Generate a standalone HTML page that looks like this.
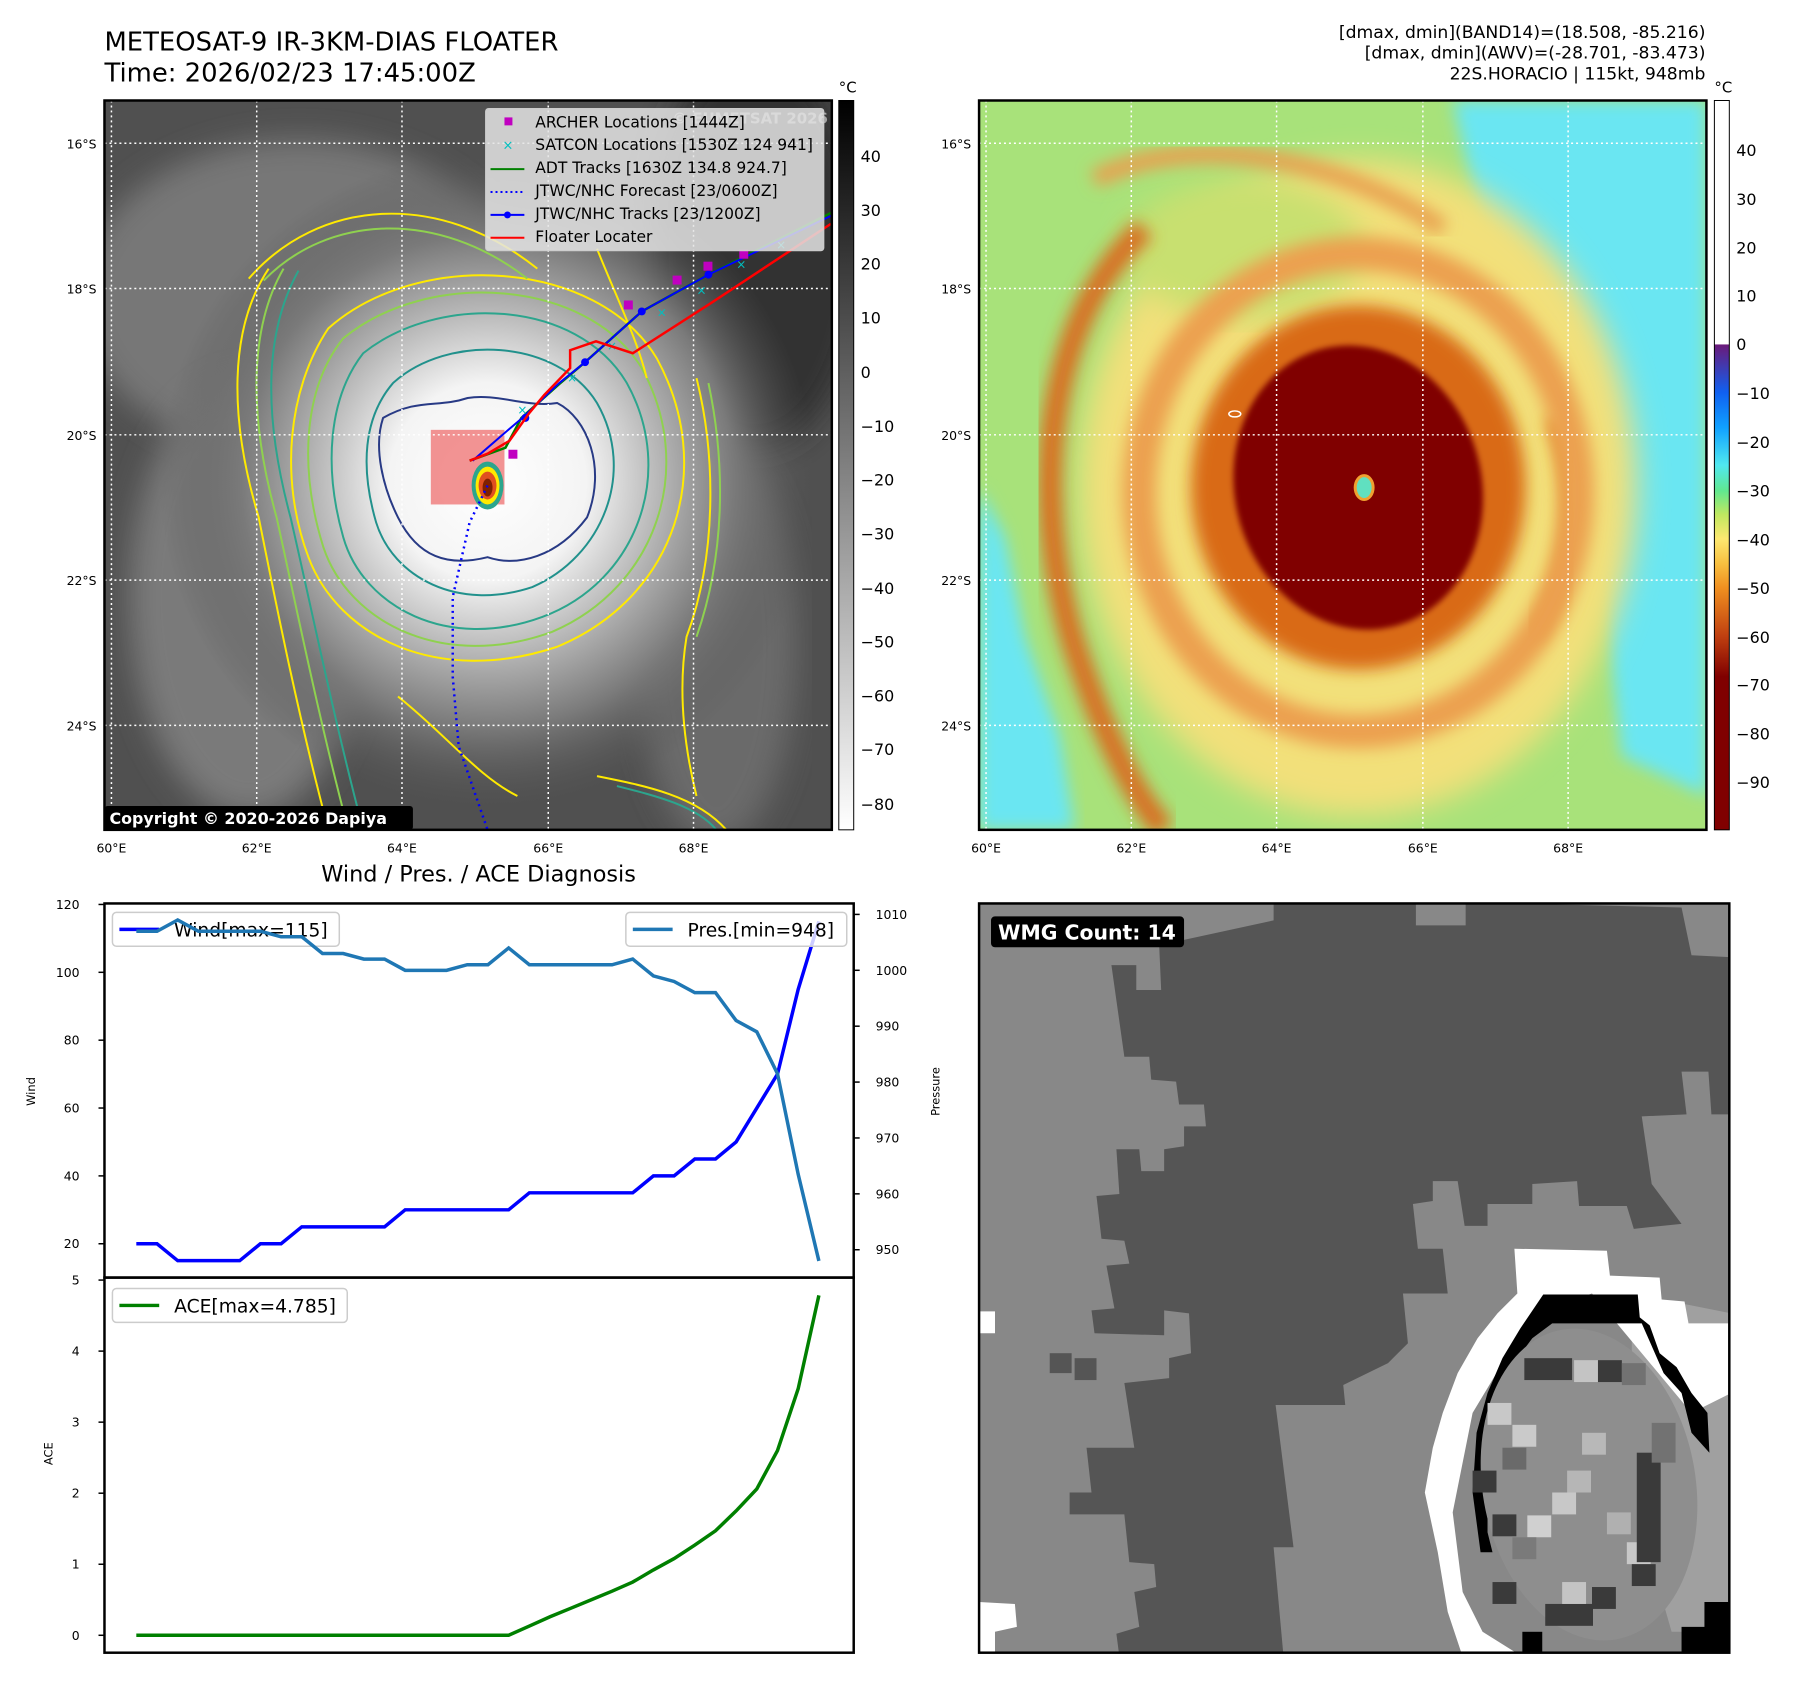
<!DOCTYPE html>
<html><head><meta charset="utf-8">
<style>
html,body{margin:0;padding:0;background:#fff;}
svg{display:block;font-family:"DejaVu Sans","Liberation Sans",sans-serif;}
</style></head>
<body>
<svg id="fig" width="1797" height="1690" viewBox="0 0 1797 1690" xmlns="http://www.w3.org/2000/svg">
<defs>
<clipPath id="cTL"><rect x="105" y="101" width="731" height="733"/></clipPath>
<clipPath id="cTR"><rect x="984" y="101" width="731" height="733"/></clipPath>
<clipPath id="cBR"><rect x="984" y="908" width="754" height="753"/></clipPath>
<clipPath id="cW"><rect x="105" y="908" width="753" height="376"/></clipPath>
<clipPath id="cA"><rect x="105" y="1284" width="753" height="377"/></clipPath>
<radialGradient id="gBright" cx="490" cy="484" r="330" gradientUnits="userSpaceOnUse">
<stop offset="0" stop-color="#ffffff"/><stop offset="0.3" stop-color="#f4f4f4"/><stop offset="0.5" stop-color="#bdbdbd"/><stop offset="0.75" stop-color="#7a7a7a"/><stop offset="1" stop-color="#555" stop-opacity="0"/>
</radialGradient>
<linearGradient id="cbGray" x1="0" y1="0" x2="0" y2="1">
<stop offset="0" stop-color="#000"/><stop offset="1" stop-color="#fff"/>
</linearGradient>
<linearGradient id="cbColor" x1="0" y1="101" x2="0" y2="834" gradientUnits="userSpaceOnUse">
<stop offset="0" stop-color="#fff"/><stop offset="0.334" stop-color="#fff"/>
<stop offset="0.335" stop-color="#6a1a7a"/><stop offset="0.40" stop-color="#1060f0"/><stop offset="0.448" stop-color="#10a0ff"/>
<stop offset="0.50" stop-color="#50e8f0"/><stop offset="0.535" stop-color="#60e890"/><stop offset="0.568" stop-color="#c0e860"/>
<stop offset="0.601" stop-color="#fde870"/><stop offset="0.635" stop-color="#f8c040"/><stop offset="0.668" stop-color="#f09020"/>
<stop offset="0.734" stop-color="#c04010"/><stop offset="0.79" stop-color="#800000"/><stop offset="1" stop-color="#800000"/>
</linearGradient>
<filter id="blur8"><feGaussianBlur stdDeviation="8"/></filter>
<filter id="blur15"><feGaussianBlur stdDeviation="15"/></filter>
<filter id="blur4"><feGaussianBlur stdDeviation="3"/></filter>
</defs>
<g transform="scale(0.995)">
<text x="105" y="51" font-size="26" fill="#000">METEOSAT-9 IR-3KM-DIAS FLOATER</text>
<text x="105" y="82" font-size="26" fill="#000">Time: 2026/02/23 17:45:00Z</text>
<g font-size="17.3" text-anchor="end" fill="#000">
<text x="1714" y="38">[dmax, dmin](BAND14)=(18.508, -85.216)</text>
<text x="1714" y="59">[dmax, dmin](AWV)=(-28.701, -83.473)</text>
<text x="1714" y="80">22S.HORACIO | 115kt, 948mb</text>
</g>

<!-- TOP LEFT MAP -->
<g clip-path="url(#cTL)">
<rect x="105" y="101" width="731" height="733" fill="#505050"/>
<ellipse cx="300" cy="300" rx="220" ry="160" fill="#777" filter="url(#blur15)"/>
<ellipse cx="250" cy="600" rx="120" ry="220" fill="#7a7a7a" filter="url(#blur15)"/>
<ellipse cx="760" cy="250" rx="110" ry="200" fill="#333" filter="url(#blur15)"/>
<ellipse cx="720" cy="650" rx="80" ry="200" fill="#6a6a6a" filter="url(#blur15)"/>
<rect x="105" y="101" width="731" height="733" fill="url(#gBright)"/>
<g fill="none" stroke-width="2">
<path d="M330,330 C420,250 600,260 660,360 C720,470 680,600 560,650 C440,690 340,640 310,560 C280,480 290,390 330,330Z" stroke="#ffea00"/>
<path d="M345,340 C430,270 590,280 645,370 C700,470 660,590 555,635 C445,675 350,625 325,550 C300,470 305,390 345,340Z" stroke="#8fd14f"/>
<path d="M365,355 C440,295 580,300 630,385 C680,475 640,585 545,620 C450,655 365,610 345,540 C325,470 330,400 365,355Z" stroke="#2ca58d"/>
<path d="M395,385 C450,335 560,340 600,405 C640,475 605,560 535,590 C460,615 395,580 378,525 C362,470 365,420 395,385Z" stroke="#21918c"/>
<path d="M385,420 C420,400 440,410 470,400 C500,395 530,410 560,405 C590,420 610,470 590,520 C560,560 520,570 490,560 C450,570 420,560 400,520 C385,490 375,450 385,420Z" stroke="#283a85"/>
<path d="M270,270 C230,330 230,420 260,520 C280,620 300,720 330,834" stroke="#ffea00"/>
<path d="M285,270 C250,330 250,420 278,520 C300,620 320,720 350,834" stroke="#8fd14f"/>
<path d="M300,272 C265,335 265,420 292,520 C315,620 335,720 365,834" stroke="#2ca58d"/>
<path d="M250,280 C320,200 440,190 540,270" stroke="#ffea00"/>
<path d="M265,282 C330,215 440,210 530,280" stroke="#8fd14f"/>
<path d="M700,380 C720,460 720,560 690,640 C680,700 690,760 700,800" stroke="#ffea00"/>
<path d="M712,385 C730,470 728,560 700,640" stroke="#8fd14f"/>
<path d="M600,780 C650,790 700,800 730,834" stroke="#ffea00"/>
<path d="M620,790 C660,800 700,810 720,834" stroke="#2ca58d"/>
<path d="M400,700 C450,740 480,780 520,800" stroke="#ffea00"/>
<path d="M600,250 C620,300 640,340 650,380" stroke="#ffea00"/>
</g>
<rect x="433" y="432" width="74" height="75" fill="#f08080" opacity="0.85"/>
<g>
<ellipse cx="490" cy="488" rx="16" ry="24" fill="#2ca58d"/>
<ellipse cx="490" cy="488" rx="12" ry="19" fill="#ffea00"/>
<ellipse cx="490" cy="488" rx="9" ry="14" fill="#e05020"/>
<ellipse cx="490" cy="490" rx="5" ry="9" fill="#802000"/>
</g>
<g stroke="#fff" stroke-width="1.5" stroke-dasharray="2,3">
<line x1="112" y1="101" x2="112" y2="834"/><line x1="258" y1="101" x2="258" y2="834"/><line x1="404" y1="101" x2="404" y2="834"/><line x1="551" y1="101" x2="551" y2="834"/><line x1="697" y1="101" x2="697" y2="834"/>
<line x1="105" y1="144" x2="836" y2="144"/><line x1="105" y1="290" x2="836" y2="290"/><line x1="105" y1="437" x2="836" y2="437"/><line x1="105" y1="583" x2="836" y2="583"/><line x1="105" y1="729" x2="836" y2="729"/>
</g>
<polyline points="490,488 472,525 455,600 455,680 461,750 490,834" fill="none" stroke="#0000ff" stroke-width="2.5" stroke-dasharray="2,4"/>
<polyline points="472,463 508,450 524,420 562,386 588,364 645,313 712,276 835,214" fill="none" stroke="#008000" stroke-width="2.5"/>
<g fill="#00c0c0" font-size="12">
<text x="520" y="416">×</text><text x="570" y="384">×</text><text x="610" y="352">×</text><text x="660" y="318">×</text><text x="700" y="296">×</text><text x="740" y="270">×</text><text x="780" y="250">×</text>
</g>
<polyline points="475,463 512,431 525,420 562,385 588,364 645,313 712,276 835,217" fill="none" stroke="#0000ff" stroke-width="2"/>
<g fill="#0000ff"><circle cx="528" cy="420" r="4"/><circle cx="588" cy="364" r="4"/><circle cx="645" cy="313" r="4"/><circle cx="712" cy="276" r="4"/></g>
<polyline points="472,463 490,456 512,443 532,415 547,397 573,370 573,352 599,343 636,355 714,305 835,225" fill="none" stroke="#ff0000" stroke-width="2.5"/>
<g fill="#c000c0"><rect x="511" y="452" width="9" height="9"/><rect x="627" y="302" width="9" height="9"/><rect x="676" y="277" width="9" height="9"/><rect x="707" y="263" width="9" height="9"/><rect x="743" y="251" width="9" height="9"/></g>
<text x="832" y="124" font-size="15" font-weight="bold" fill="#fff" opacity="0.55" text-anchor="end">© EUMETSAT 2026</text>
<g>
<rect x="488" y="109" width="340" height="143" rx="3" fill="#e4e4e4" fill-opacity="0.85" stroke="#ccc"/>
<rect x="507" y="118" width="8" height="8" fill="#c000c0"/>
<text x="505" y="150" font-size="13" fill="#00c0c0">×</text>
<line x1="493" y1="170" x2="527" y2="170" stroke="#008000" stroke-width="2"/>
<line x1="493" y1="193" x2="527" y2="193" stroke="#0000ff" stroke-width="2" stroke-dasharray="2,3"/>
<line x1="493" y1="216" x2="527" y2="216" stroke="#0000ff" stroke-width="2"/><circle cx="510" cy="216" r="3.5" fill="#0000ff"/>
<line x1="493" y1="239" x2="527" y2="239" stroke="#ff0000" stroke-width="2"/>
<g font-size="15.6" fill="#000">
<text x="538" y="128">ARCHER Locations [1444Z]</text>
<text x="538" y="151">SATCON Locations [1530Z 124 941]</text>
<text x="538" y="174">ADT Tracks [1630Z 134.8 924.7]</text>
<text x="538" y="197">JTWC/NHC Forecast [23/0600Z]</text>
<text x="538" y="220">JTWC/NHC Tracks [23/1200Z]</text>
<text x="538" y="243">Floater Locater</text>
</g>
</g>
<rect x="105" y="810" width="310" height="24" rx="3" fill="#000"/>
<text x="110" y="828" font-size="16" font-weight="bold" fill="#fff">Copyright © 2020-2026 Dapiya</text>
</g>
<rect x="105" y="101" width="731" height="733" fill="none" stroke="#000" stroke-width="2.5"/>

<g font-size="12.5" fill="#000" text-anchor="end">
<text x="97" y="149">16°S</text><text x="97" y="295">18°S</text><text x="97" y="442">20°S</text><text x="97" y="588">22°S</text><text x="97" y="734">24°S</text>
</g>
<g font-size="12.5" fill="#000" text-anchor="middle">
<text x="112" y="857">60°E</text><text x="258" y="857">62°E</text><text x="404" y="857">64°E</text><text x="551" y="857">66°E</text><text x="697" y="857">68°E</text>
</g>
<g>
<rect x="843" y="101" width="15" height="733" fill="url(#cbGray)" stroke="#000" stroke-width="1"/>
<text x="852" y="93" font-size="15" text-anchor="middle">°C</text>
<g font-size="16" fill="#000">
<text x="865" y="163">40</text><text x="865" y="217">30</text><text x="865" y="271">20</text><text x="865" y="325">10</text><text x="865" y="380">0</text>
<text x="865" y="434">−10</text><text x="865" y="488">−20</text><text x="865" y="542">−30</text><text x="865" y="597">−40</text><text x="865" y="651">−50</text><text x="865" y="705">−60</text><text x="865" y="759">−70</text><text x="865" y="814">−80</text>
</g>
</g>

<!-- TOP RIGHT MAP -->
<g clip-path="url(#cTR)">
<rect x="984" y="101" width="731" height="733" fill="#a8e27a"/>
<polygon points="1460,101 1715,101 1715,800 1630,760 1610,580 1600,440 1545,335 1490,230" fill="#6ae6f2" filter="url(#blur8)"/>
<polygon points="984,490 1010,540 1030,640 1065,740 1080,834 984,834" fill="#6ae6f2" filter="url(#blur8)"/>
<ellipse cx="1365" cy="490" rx="280" ry="330" fill="#f2e07a" filter="url(#blur15)"/>
<ellipse cx="1250" cy="250" rx="120" ry="70" fill="#c8e070" filter="url(#blur15)"/>
<path d="M1150,230 C1040,330 1040,520 1080,650 C1110,740 1140,800 1170,834" fill="none" stroke="#d87020" stroke-width="24" filter="url(#blur8)"/>
<path d="M1100,180 C1200,130 1350,160 1450,230" fill="none" stroke="#e8a050" stroke-width="18" filter="url(#blur8)"/>
<path d="M1560,420 C1590,500 1580,580 1540,640" fill="none" stroke="#e07a20" stroke-width="14" filter="url(#blur8)"/>
<ellipse cx="1365" cy="495" rx="220" ry="240" fill="none" stroke="#eca050" stroke-width="34" filter="url(#blur8)"/>
<ellipse cx="1365" cy="490" rx="168" ry="183" fill="#d96a18" filter="url(#blur8)"/>
<ellipse cx="1365" cy="490" rx="124" ry="144" fill="#800000" transform="rotate(-15 1365 490)" filter="url(#blur4)"/>
<ellipse cx="1371" cy="490" rx="9" ry="12" fill="#60e0c0" stroke="#f0a030" stroke-width="3"/>
<ellipse cx="1241" cy="416" rx="6" ry="3" fill="none" stroke="#fff" stroke-width="1.5"/>
<g stroke="#fff" stroke-width="1.5" stroke-dasharray="2,3">
<line x1="991" y1="101" x2="991" y2="834"/><line x1="1137" y1="101" x2="1137" y2="834"/><line x1="1283" y1="101" x2="1283" y2="834"/><line x1="1430" y1="101" x2="1430" y2="834"/><line x1="1576" y1="101" x2="1576" y2="834"/>
<line x1="984" y1="144" x2="1715" y2="144"/><line x1="984" y1="290" x2="1715" y2="290"/><line x1="984" y1="437" x2="1715" y2="437"/><line x1="984" y1="583" x2="1715" y2="583"/><line x1="984" y1="729" x2="1715" y2="729"/>
</g>
</g>
<rect x="984" y="101" width="731" height="733" fill="none" stroke="#000" stroke-width="2.5"/>
<g font-size="12.5" fill="#000" text-anchor="end">
<text x="976" y="149">16°S</text><text x="976" y="295">18°S</text><text x="976" y="442">20°S</text><text x="976" y="588">22°S</text><text x="976" y="734">24°S</text>
</g>
<g font-size="12.5" fill="#000" text-anchor="middle">
<text x="991" y="857">60°E</text><text x="1137" y="857">62°E</text><text x="1283" y="857">64°E</text><text x="1430" y="857">66°E</text><text x="1576" y="857">68°E</text>
</g>
<g>
<rect x="1723" y="101" width="15" height="733" fill="url(#cbColor)" stroke="#000" stroke-width="1"/>
<text x="1732" y="93" font-size="15" text-anchor="middle">°C</text>
<g font-size="16" fill="#000">
<text x="1745" y="157">40</text><text x="1745" y="206">30</text><text x="1745" y="255">20</text><text x="1745" y="303">10</text><text x="1745" y="352">0</text>
<text x="1745" y="401">−10</text><text x="1745" y="450">−20</text><text x="1745" y="499">−30</text><text x="1745" y="548">−40</text><text x="1745" y="597">−50</text><text x="1745" y="646">−60</text><text x="1745" y="694">−70</text><text x="1745" y="743">−80</text><text x="1745" y="792">−90</text>
</g>
</g>

<!-- BOTTOM RIGHT WMG -->
<g clip-path="url(#cBR)">
<rect x="984" y="908" width="754" height="753" fill="#888"/>
<polygon fill="#555" points="1280,905 1423,905 1423,930 1473,930 1473,907 1690,912 1700,960 1740,962 1740,1120 1720,1120 1717,1077 1690,1077 1695,1120 1650,1122 1660,1190 1690,1230 1642,1235 1635,1212 1587,1212 1585,1187 1540,1190 1540,1210 1495,1210 1495,1232 1472,1232 1465,1187 1440,1187 1440,1207 1420,1210 1425,1255 1450,1255 1455,1300 1410,1300 1415,1350 1395,1370 1350,1392 1352,1412 1307,1412 1282,1412 1300,1555 1280,1555 1290,1665 1125,1665 1122,1642 1145,1635 1140,1600 1162,1595 1160,1572 1135,1570 1130,1522 1075,1522 1075,1500 1097,1500 1092,1455 1140,1455 1130,1390 1175,1385 1175,1365 1197,1360 1195,1320 1170,1317 1170,1342 1100,1340 1097,1317 1120,1315 1112,1272 1135,1270 1130,1247 1107,1245 1102,1202 1125,1200 1122,1155 1145,1155 1147,1177 1170,1177 1170,1155 1190,1152 1190,1132 1212,1132 1210,1110 1185,1110 1182,1087 1157,1085 1155,1062 1130,1062 1117,970 1142,970 1142,995 1167,995 1165,950 1280,925"/>
<rect x="1080" y="1365" width="22" height="22" fill="#555"/>
<rect x="1055" y="1360" width="22" height="20" fill="#555"/>
<polygon fill="#a0a0a0" points="1640,1300 1740,1320 1740,1640 1680,1640 1640,1500"/>
<polygon fill="#fff" points="1522,1255 1615,1257 1618,1282 1668,1284 1670,1306 1693,1308 1697,1330 1740,1330 1740,1400 1700,1420 1600,1300 1540,1320 1480,1420 1460,1520 1470,1600 1490,1640 1530,1665 1470,1665 1455,1620 1445,1560 1432,1500 1440,1455 1450,1420 1465,1380 1485,1345 1505,1320 1525,1300"/>
<polygon fill="#000" points="1551,1301 1646,1301 1648,1324 1658,1332 1668,1360 1685,1374 1700,1400 1716,1420 1718,1460 1700,1440 1690,1400 1672,1380 1650,1330 1560,1330 1540,1345 1525,1365 1512,1395 1502,1430 1495,1480 1495,1540 1500,1560 1488,1560 1480,1500 1484,1440 1495,1400 1510,1365 1528,1335"/>
<ellipse cx="1597" cy="1492" rx="107" ry="158" transform="rotate(-10 1597 1492)" fill="#8e8e8e"/>
<g>
<rect x="1532" y="1365" width="48" height="22" fill="#3a3a3a"/><rect x="1582" y="1367" width="24" height="22" fill="#c4c4c4"/>
<rect x="1606" y="1367" width="24" height="22" fill="#3a3a3a"/><rect x="1630" y="1370" width="24" height="22" fill="#727272"/>
<rect x="1495" y="1410" width="24" height="22" fill="#c8c8c8"/><rect x="1520" y="1432" width="24" height="22" fill="#cacaca"/>
<rect x="1510" y="1455" width="24" height="22" fill="#6a6a6a"/><rect x="1480" y="1478" width="24" height="22" fill="#3a3a3a"/>
<rect x="1575" y="1478" width="24" height="22" fill="#b6b6b6"/><rect x="1560" y="1500" width="24" height="22" fill="#c8c8c8"/>
<rect x="1535" y="1523" width="24" height="22" fill="#d0d0d0"/><rect x="1635" y="1550" width="24" height="22" fill="#c8c8c8"/>
<rect x="1645" y="1460" width="24" height="110" fill="#3a3a3a"/><rect x="1640" y="1572" width="24" height="22" fill="#3a3a3a"/>
<rect x="1500" y="1522" width="24" height="22" fill="#3a3a3a"/><rect x="1600" y="1595" width="24" height="22" fill="#3a3a3a"/>
<rect x="1500" y="1590" width="24" height="22" fill="#3a3a3a"/><rect x="1553" y="1612" width="48" height="22" fill="#3a3a3a"/>
<rect x="1590" y="1440" width="24" height="22" fill="#b8b8b8"/><rect x="1615" y="1520" width="24" height="22" fill="#b0b0b0"/>
<rect x="1570" y="1590" width="24" height="22" fill="#c4c4c4"/><rect x="1520" y="1545" width="24" height="22" fill="#7a7a7a"/>
<rect x="1660" y="1430" width="24" height="40" fill="#727272"/>
</g>
<polygon fill="#000" points="1713,1610 1740,1610 1740,1665 1690,1665 1690,1635 1713,1635"/>
<rect x="1530" y="1640" width="20" height="25" fill="#000"/>
<polygon fill="#fff" points="984,1318 1000,1318 1000,1340 984,1340"/>
<polygon fill="#fff" points="984,1610 1020,1612 1022,1635 1000,1640 1000,1665 984,1665"/>
</g>
<rect x="984" y="908" width="754" height="753" fill="none" stroke="#000" stroke-width="2.5"/>
<rect x="996" y="921" width="194" height="31" rx="4" fill="#000"/>
<text x="1003" y="944" font-size="20.5" font-weight="bold" fill="#fff">WMG Count: 14</text>

<!-- BOTTOM LEFT CHART -->
<text x="481" y="886" font-size="22.5" text-anchor="middle">Wind / Pres. / ACE Diagnosis</text>
<g id="chart"></g>
</g>
</svg>
<script>
const windVals = [20,20,15,15,15,15,20,20,25,25,25,25,25,30,30,30,30,30,30,35,35,35,35,35,35,40,40,45,45,50,60,70,95,115];
const presVals = [1007,1007,1009,1007,1007,1007,1007,1006,1006,1003,1003,1002,1002,1000,1000,1000,1001,1001,1004,1001,1001,1001,1001,1001,1002,999,998,996,996,991,989,981.5,963.5,948];
const aceVals = [0,0,0,0,0,0,0,0,0,0,0,0,0,0,0,0,0,0,0,0.13,0.26,0.38,0.5,0.62,0.75,0.92,1.08,1.27,1.47,1.75,2.06,2.6,3.47,4.785];
const windTicks = [20,40,60,80,100,120];
const presTicks = [950,960,970,980,990,1000,1010];
const aceTicks = [0,1,2,3,4,5];

const NS = 'http://www.w3.org/2000/svg';
const chart = document.getElementById('chart');
const xS = i => 137 + i * (823 - 137) / (windVals.length - 1);
const yW = v => 909 + (120 - v) * 3.41;
const yP = p => 919 + (1010 - p) * 5.617;
const yA = a => 1643.5 - a * 71.4;
function mk(tag, attrs, parent) {
  const e = document.createElementNS(NS, tag);
  for (const k in attrs) e.setAttribute(k, attrs[k]);
  (parent || chart).appendChild(e);
  return e;
}
function path(vals, sx, sy) {
  return vals.map((v, i) => (i ? 'L' : 'M') + sx(i).toFixed(1) + ',' + sy(v).toFixed(1)).join(' ');
}
const f1 = mk('rect', {x:105, y:908, width:753, height:376, fill:'none', stroke:'#000', 'stroke-width':2.5});


const f2 = mk('rect', {x:105, y:1284, width:753, height:377, fill:'none', stroke:'#000', 'stroke-width':2.5});


windTicks.forEach(t => {
  const y = yW(t);
  const l = mk('line', {x1:99, x2:105, y1:y, y2:y, stroke:'#000', 'stroke-width':1.5});
  
  
  const tx = mk('text', {x:80, y:y + 4.5, 'font-size':12.5, 'text-anchor':'end'});
  tx.textContent = t;
  
  
});
presTicks.forEach(t => {
  const y = yP(t);
  const l = mk('line', {x1:858, x2:864, y1:y, y2:y, stroke:'#000', 'stroke-width':1.5});
  
  
  const tx = mk('text', {x:880, y:y + 4.5, 'font-size':12.5});
  tx.textContent = t;
  
  
});
aceTicks.forEach(t => {
  const y = yA(t);
  const l = mk('line', {x1:99, x2:105, y1:y, y2:y, stroke:'#000', 'stroke-width':1.5});
  
  
  const tx = mk('text', {x:80, y:y + 4.5, 'font-size':12.5, 'text-anchor':'end'});
  tx.textContent = t;
  
  
});
const yt1 = mk('text', {x:0, y:0, 'font-size':11.5, 'text-anchor':'middle', transform:'translate(35,1097) rotate(-90)'});
yt1.textContent = 'Wind';


const yt2 = mk('text', {x:0, y:0, 'font-size':11.5, 'text-anchor':'middle', transform:'translate(944,1097) rotate(-90)'});
yt2.textContent = 'Pressure';


const yt3 = mk('text', {x:0, y:0, 'font-size':11.5, 'text-anchor':'middle', transform:'translate(53,1461) rotate(-90)'});
yt3.textContent = 'ACE';


const wl = mk('path', {d:path(windVals, xS, yW), fill:'none', stroke:'#0000ff', 'stroke-width':3.5, 'clip-path':'url(#cW)'});


function legend(x, y, w, color, label, name) {
  const g = mk('g', {});
  
  
  mk('rect', {x:x, y:y, width:w, height:34, rx:4, fill:'#fff', 'fill-opacity':0.8, stroke:'#ccc', 'stroke-width':1.5}, g);
  mk('line', {x1:x + 7, x2:x + 47, y1:y + 17, y2:y + 17, stroke:color, 'stroke-width':3.5}, g);
  const t = mk('text', {x:x + 62, y:y + 24, 'font-size':18.8}, g);
  t.textContent = label;
}
legend(113, 917, 228, '#0000ff', 'Wind[max=115]', 'wind-legend');
const pl = mk('path', {d:path(presVals, xS, yP), fill:'none', stroke:'#1f77b4', 'stroke-width':3.5, 'clip-path':'url(#cW)'});


legend(629, 917, 222, '#1f77b4', 'Pres.[min=948]', 'pressure-legend');
const al = mk('path', {d:path(aceVals, xS, yA), fill:'none', stroke:'#008000', 'stroke-width':3.5, 'clip-path':'url(#cA)'});


legend(113, 1295, 236, '#008000', 'ACE[max=4.785]', 'ace-legend');
</script>
</body></html>
